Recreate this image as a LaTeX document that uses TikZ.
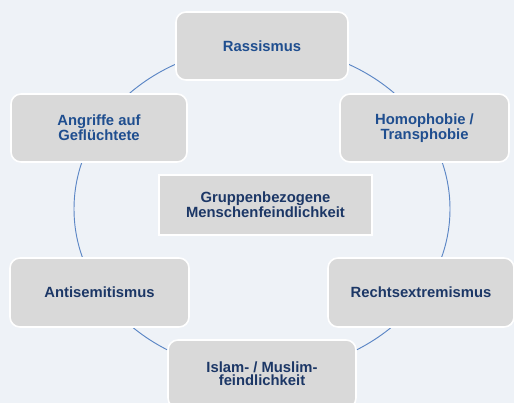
\documentclass[tikz,border=0pt]{standalone}
\usepackage{fontspec}
\setmainfont{Liberation Sans}

\definecolor{bgcol}{HTML}{EEF2F7}
\definecolor{boxcol}{HTML}{D9D9D9}
\definecolor{ringcol}{HTML}{5B86C5}
\definecolor{topblue}{HTML}{1F4E8F}
\definecolor{navy}{HTML}{1C3766}

\tikzset{
  topic/.style 2 args={draw=white, line width=1.2pt, fill=boxcol,
    rounded corners=7.5pt, align=center,
    minimum width=#1*0.75pt, minimum height=#2*0.75pt,
    font=\fontsize{11.1pt}{9.6pt}\selectfont\bfseries},
  core/.style={draw=white, line width=0.8pt, fill=boxcol, align=center,
    minimum width=213*0.75pt, minimum height=60*0.75pt, text=navy,
    font=\fontsize{11.1pt}{9.6pt}\selectfont\bfseries}
}

\begin{document}
\begin{tikzpicture}[x=0.75pt, y=-0.75pt]
      % Background
      \fill[bgcol] (0,0) rectangle (514,403);
      \useasboundingbox (0,0) rectangle (514,403);

      % Ring behind the boxes
      \coordinate (o) at (262,209);
      \draw[ringcol, line width=0.7pt] (o) ellipse [x radius=141pt, y radius=122.25pt];

      % Boxes on the ring
      \node[topic={172}{68}, text=topblue] (ra) at (262,46) {Rassismus};
      \node[topic={176}{68}, text=topblue] (an) at (99,128) {Angriffe auf\\Geflüchtete};
      \node[topic={169}{68}, text=topblue] (ho) at (424.5,128) {Homophobie /\\Transphobie};
      \node[topic={179}{69}, text=navy]    (as) at (99.5,292.5) {Antisemitismus};
      \node[topic={186}{69}, text=navy]    (re) at (421,292.5) {Rechtsextremismus};
      \node[topic={188}{68}, text=navy]    (is) at (262,374) {Islam- / Muslim-\\feindlichkeit};

      % Centre
      \node[core] (ce) at (265.5,205) {Gruppenbezogene\\Menschenfeindlichkeit};
\end{tikzpicture}
\end{document}
